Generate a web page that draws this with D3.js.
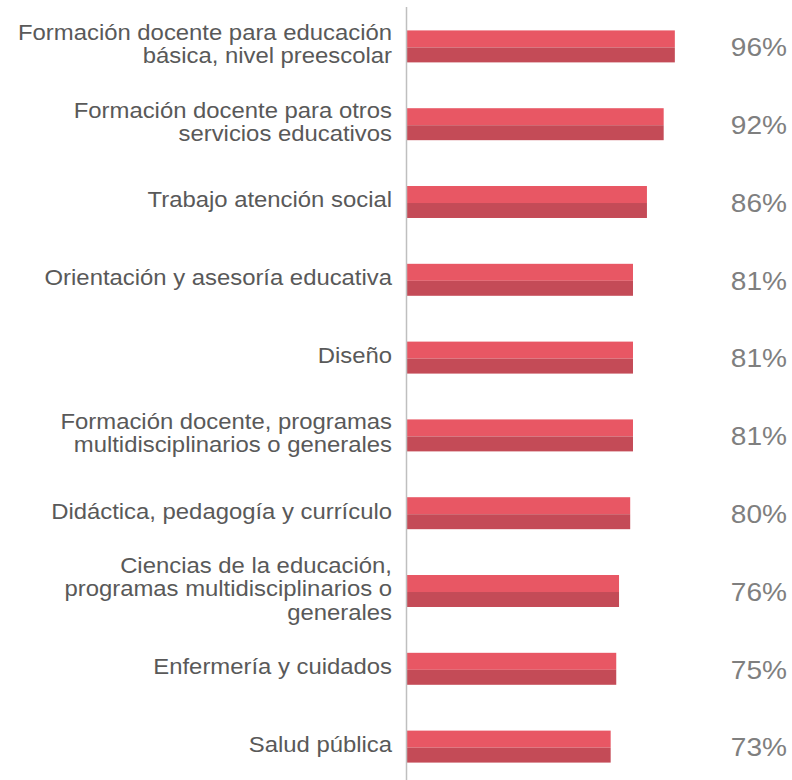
<!DOCTYPE html>
<html><head><meta charset="utf-8">
<script src="https://cdn.jsdelivr.net/npm/d3@7/dist/d3.min.js"></script>
<style>body{margin:0;background:#fff}</style>
</head><body>
<svg id="c" width="792" height="780"></svg>
<script>
const categories = [
  ["Formación docente para educación","básica, nivel preescolar"],
  ["Formación docente para otros","servicios educativos"],
  ["Trabajo atención social"],
  ["Orientación y asesoría educativa"],
  ["Diseño"],
  ["Formación docente, programas","multidisciplinarios o generales"],
  ["Didáctica, pedagogía y currículo"],
  ["Ciencias de la educación,","programas multidisciplinarios o","generales"],
  ["Enfermería y cuidados"],
  ["Salud pública"]
];
const values = [96, 92, 86, 81, 81, 81, 80, 76, 75, 73];
const valueLabels = ["96%","92%","86%","81%","81%","81%","80%","76%","75%","73%"];

const svg = d3.select("#c");
const keys = categories.map((d,i)=>i);
const x = d3.scaleLinear().domain([0,100]).range([407,686]);
const y = d3.scaleBand().domain(keys).range([7.5,785.5]).paddingInner(0.589).paddingOuter(0.2945);

const g = svg.append("g");
keys.forEach(i=>{
  const y0 = y(i), bw = y.bandwidth();
  const top = Math.round(bw*0.53);
  g.append("rect").attr("x",x(0)).attr("y",y0).attr("width",x(values[i])-x(0)).attr("height",top).attr("fill","#E85764");
  g.append("rect").attr("x",x(0)).attr("y",y0+top).attr("width",x(values[i])-x(0)).attr("height",bw-top).attr("fill","#C44B57");
  const cy = y0 + bw/2;
  const lines = categories[i];
  const lh = 23.3;
  const t = g.append("text").attr("text-anchor","end")
    .attr("transform",`translate(392,${cy}) scale(1.1,1)`)
    .attr("font-family","Liberation Sans, Arial, sans-serif").attr("font-size",21.7).attr("fill","#595959");
  lines.forEach((ln,k)=>{
    t.append("tspan").attr("x",0).attr("y", (k-(lines.length-1)/2)*lh + 5.3).text(ln);
  });
  g.append("text").attr("text-anchor","end")
    .attr("transform",`translate(787,${cy+9.8}) scale(1.08,1)`)
    .attr("font-family","Liberation Sans, Arial, sans-serif").attr("font-size",26).attr("fill","#7F7F7F").text(valueLabels[i]);
});
svg.append("line").attr("x1",406.5).attr("x2",406.5).attr("y1",7).attr("y2",780).attr("stroke","#BFBFBF").attr("stroke-width",1.5);
</script>
</body></html>
